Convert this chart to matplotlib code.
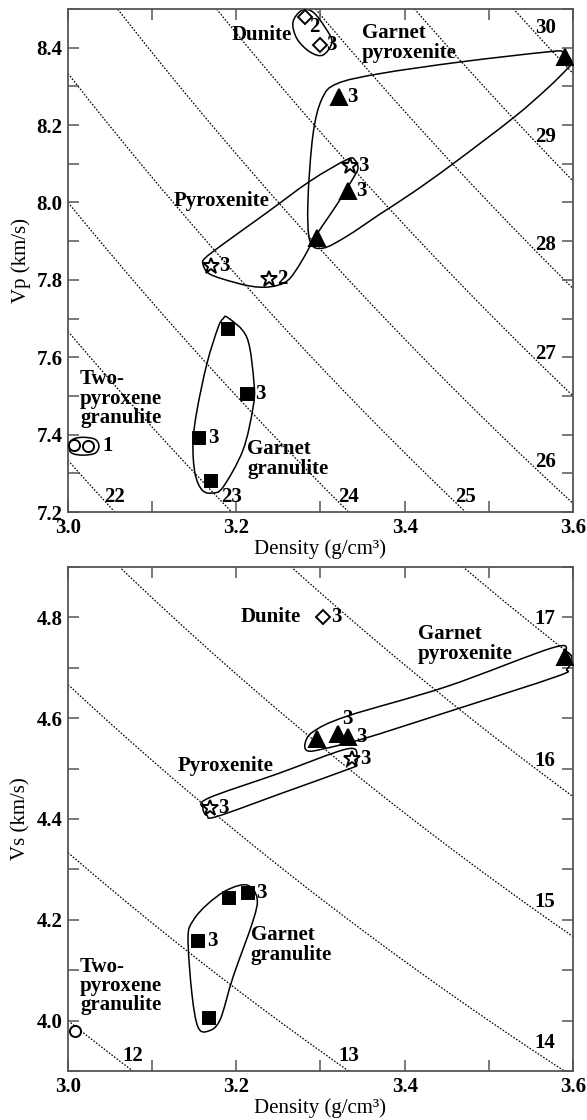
import numpy as np
import matplotlib
matplotlib.use('Agg')
from matplotlib import pyplot as plt
from matplotlib.path import Path
from matplotlib.patches import PathPatch
from matplotlib.ticker import MultipleLocator, FuncFormatter

plt.rcParams['font.family'] = ['Liberation Serif', 'DejaVu Serif']
plt.rcParams['font.weight'] = 'bold'
plt.rcParams['font.size'] = 15

# ---- top panel: Vp vs density ----
vp_iso = [22, 23, 24, 25, 26, 27, 28, 29, 30]

vp_dun_rho = [3.282, 3.299]
vp_dun_v = [8.479, 8.407]
vp_dun_n = ['2', '3']

vp_gpx_rho = [3.590, 3.322, 3.333, 3.296]
vp_gpx_v = [8.375, 8.273, 8.029, 7.908]
vp_gpx_n = ['', '3', '3', '']

vp_pyx_rho = [3.335, 3.170, 3.239]
vp_pyx_v = [8.093, 7.836, 7.802]
vp_pyx_n = ['3', '3', '2']

vp_ggr_rho = [3.190, 3.213, 3.156, 3.170]
vp_ggr_v = [7.674, 7.506, 7.390, 7.280]
vp_ggr_n = ['', '3', '3', '']

vp_tpg_rho = [3.007, 3.024]
vp_tpg_v = [7.372, 7.370]
vp_tpg_n = ['', '1']

# outlines (density, Vp)
vp_gpx_loop_rho = [3.2875, 3.2851, 3.2911, 3.3018, 3.3196, 3.3707, 3.4657, 3.5691, 3.5881,
                   3.5988, 3.5929, 3.5691, 3.5287, 3.4562, 3.4099, 3.3707, 3.3315, 3.3030]
vp_gpx_loop_v = [7.900, 8.003, 8.176, 8.268, 8.307, 8.333, 8.363, 8.389, 8.389,
                 8.363, 8.345, 8.294, 8.218, 8.098, 8.026, 7.970, 7.913, 7.882]
vp_pyx_loop_rho = [3.1628, 3.1841, 3.2352, 3.2875, 3.3315, 3.3410, 3.3445, 3.3386, 3.3196,
                   3.2958, 3.2756, 3.2602, 3.2400, 3.2162, 3.1841, 3.1663, 3.1604]
vp_pyx_loop_v = [7.856, 7.892, 7.972, 8.055, 8.111, 8.109, 8.088, 8.062, 7.995,
                 7.918, 7.841, 7.797, 7.782, 7.784, 7.802, 7.818, 7.841]
vp_dun_loop_rho = [3.2780, 3.2911, 3.3053, 3.3136, 3.3029, 3.2875, 3.2721, 3.2673]
vp_dun_loop_v = [8.497, 8.492, 8.453, 8.415, 8.381, 8.389, 8.423, 8.466]
vp_tpg_loop_rho = [3.000, 3.0059, 3.0178, 3.0321, 3.0368, 3.0321, 3.0178, 3.0048]
vp_tpg_loop_v = [7.370, 7.388, 7.393, 7.388, 7.370, 7.352, 7.347, 7.352]
vp_ggr_loop_rho = [3.1901, 3.2127, 3.2210, 3.2198, 3.2079, 3.1841, 3.1711, 3.1592, 3.1509,
                   3.1485, 3.1533, 3.1651, 3.1782, 3.1841]
vp_ggr_loop_v = [7.702, 7.650, 7.532, 7.470, 7.360, 7.264, 7.249, 7.257, 7.300,
                 7.378, 7.463, 7.584, 7.676, 7.699]

# ---- bottom panel: Vs vs density ----
vs_iso = [12, 13, 14, 15, 16, 17]

vs_dun_rho = [3.303]
vs_dun_v = [4.800]
vs_dun_n = ['3']

vs_gpx_rho = [3.590, 3.296, 3.321, 3.333]
vs_gpx_v = [4.722, 4.559, 4.569, 4.563]
vs_gpx_n = ['', '', '3', '3']

vs_pyx_rho = [3.337, 3.169]
vs_pyx_v = [4.519, 4.421]
vs_pyx_n = ['3', '3']

vs_ggr_rho = [3.214, 3.191, 3.155, 3.167]
vs_ggr_v = [4.253, 4.243, 4.158, 4.005]
vs_ggr_n = ['3', '', '3', '']

vs_tpg_rho = [3.008]
vs_tpg_v = [3.979]
vs_tpg_n = ['']

vs_gpx_loop_rho = [3.2816, 3.2911, 3.3315, 3.4503, 3.5762, 3.5928, 3.5988, 3.5928, 3.5810,
                   3.4503, 3.3505, 3.3030, 3.2851]
vs_gpx_loop_v = [4.549, 4.573, 4.604, 4.663, 4.740, 4.732, 4.717, 4.697, 4.683,
                 4.612, 4.559, 4.539, 4.535]
vs_pyx_loop_rho = [3.1604, 3.1663, 3.2495, 3.3315, 3.3434, 3.3410, 3.3350, 3.2554, 3.1770, 3.1651]
vs_pyx_loop_v = [4.421, 4.441, 4.490, 4.539, 4.523, 4.506, 4.500, 4.452, 4.405, 4.407]
vs_ggr_loop_rho = [3.2127, 3.2246, 3.2198, 3.1960, 3.1805, 3.1663, 3.1545, 3.1473, 3.1426,
                   3.1485, 3.1651, 3.1889]
vs_ggr_loop_v = [4.269, 4.243, 4.198, 4.086, 4.001, 3.979, 3.987, 4.052, 4.164,
                 4.198, 4.230, 4.259]


def loop(ax, xs, ys):
    # closed smooth outline through the given points (Catmull-Rom as Bezier)
    p = np.column_stack([xs, ys])
    n = len(p)
    verts = [p[0]]
    codes = [Path.MOVETO]
    for i in range(n):
        p0, p1, p2, p3 = p[i - 1], p[i], p[(i + 1) % n], p[(i + 2) % n]
        verts += [p1 + (p2 - p0) / 6, p2 - (p3 - p1) / 6, p2]
        codes += [Path.CURVE4] * 3
    ax.add_patch(PathPatch(Path(verts, codes), fill=False, lw=1.1, ec='k', zorder=2))


def points(ax, xs, ys, labels, marker, ms, filled, offsets=None):
    fc = 'k' if filled else 'white'
    ax.plot(xs, ys, ls='none', marker=marker, ms=ms, mfc=fc, mec='k', mew=1.4, zorder=4)
    for i, (x, y, s) in enumerate(zip(xs, ys, labels)):
        if s:
            off = offsets[i] if offsets else (6, 0)
            ax.annotate(s, (x, y), xytext=off, textcoords='offset points',
                        ha='left', va='center', zorder=5)


def iso_lines(ax, zs, xlim, ylim):
    rho = np.linspace(xlim[0], xlim[1], 300)
    for z in zs:
        ax.plot(rho, z / rho, ls=(0, (1.3, 1.3)), lw=0.9, color='k', zorder=1)
        x = min(z / ylim[0], xlim[1] - 0.033)
        ax.annotate(str(z), (x, z / x), xytext=(0, 11), textcoords='offset points',
                    ha='center', va='center')


def frame(ax, ylim, ylabel):
    ax.set_xlim(3.0, 3.6)
    ax.set_ylim(*ylim)
    ax.xaxis.set_major_locator(MultipleLocator(0.1))
    ax.yaxis.set_major_locator(MultipleLocator(0.1))
    fmt = FuncFormatter(lambda v, _: f'{v:.1f}' if round(v * 10) % 2 == 0 else '')
    ax.xaxis.set_major_formatter(fmt)
    ax.yaxis.set_major_formatter(fmt)
    ax.tick_params(direction='in', length=8, width=1.1, top=True, right=True,
                   labelsize=15, pad=4, color='#555555')
    for s in ax.spines.values():
        s.set_color('#555555')
        s.set_linewidth(1.3)
    ax.set_xlabel('Density (g/cm³)', fontsize=15, labelpad=1)
    ax.set_ylabel(ylabel, fontsize=15, labelpad=4)


fig = plt.figure(figsize=(5.87, 11.2), dpi=100)
ax1 = fig.add_axes([68 / 587, 1 - 512 / 1120, 505 / 587, 503 / 1120])
ax2 = fig.add_axes([68 / 587, 1 - 1071 / 1120, 505 / 587, 504 / 1120])

# top
frame(ax1, (7.2, 8.5), 'Vp (km/s)')
iso_lines(ax1, vp_iso, (3.0, 3.6), (7.2, 8.5))
loop(ax1, vp_gpx_loop_rho, vp_gpx_loop_v)
loop(ax1, vp_pyx_loop_rho, vp_pyx_loop_v)
loop(ax1, vp_dun_loop_rho, vp_dun_loop_v)
loop(ax1, vp_tpg_loop_rho, vp_tpg_loop_v)
loop(ax1, vp_ggr_loop_rho, vp_ggr_loop_v)
points(ax1, vp_dun_rho, vp_dun_v, vp_dun_n, 'D', 7.5, False, [(3, -7), (5, 0)])
points(ax1, vp_gpx_rho, vp_gpx_v, vp_gpx_n, '^', 11, True)
points(ax1, vp_pyx_rho, vp_pyx_v, vp_pyx_n, '*', 12, False)
points(ax1, vp_ggr_rho, vp_ggr_v, vp_ggr_n, 's', 9, True)
points(ax1, vp_tpg_rho, vp_tpg_v, vp_tpg_n, 'o', 8, False, [(6, 0), (10, 0)])
ax1.text(3.2305, 8.433, 'Dunite', ha='center', va='center')
ax1.text(3.349, 8.412, 'Garnet\npyroxenite', ha='left', va='center', linespacing=1.0)
ax1.text(3.183, 8.003, 'Pyroxenite', ha='center', va='center')
ax1.text(3.0143, 7.493, 'Two-\npyroxene\ngranulite', ha='left', va='center', linespacing=0.95)
ax1.text(3.2127, 7.336, 'Garnet\ngranulite', ha='left', va='center', linespacing=1.0)

# bottom
frame(ax2, (3.9, 4.9), 'Vs (km/s)')
iso_lines(ax2, vs_iso, (3.0, 3.6), (3.9, 4.9))
loop(ax2, vs_gpx_loop_rho, vs_gpx_loop_v)
loop(ax2, vs_pyx_loop_rho, vs_pyx_loop_v)
loop(ax2, vs_ggr_loop_rho, vs_ggr_loop_v)
points(ax2, vs_dun_rho, vs_dun_v, vs_dun_n, 'D', 7.5, False)
points(ax2, vs_gpx_rho, vs_gpx_v, vs_gpx_n, '^', 11, True,
       [(6, 0), (6, 0), (3, 11), (6, 0)])
points(ax2, vs_pyx_rho, vs_pyx_v, vs_pyx_n, '*', 12, False)
points(ax2, vs_ggr_rho, vs_ggr_v, vs_ggr_n, 's', 9, True)
points(ax2, vs_tpg_rho, vs_tpg_v, vs_tpg_n, 'o', 8, False)
ax2.text(3.2412, 4.801, 'Dunite', ha='center', va='center')
ax2.text(3.416, 4.748, 'Garnet\npyroxenite', ha='left', va='center', linespacing=1.0)
ax2.text(3.1877, 4.506, 'Pyroxenite', ha='center', va='center')
ax2.text(3.0143, 4.069, 'Two-\npyroxene\ngranulite', ha='left', va='center', linespacing=0.95)
ax2.text(3.2174, 4.150, 'Garnet\ngranulite', ha='left', va='center', linespacing=1.0)

fig.savefig('out.png', dpi=100)
